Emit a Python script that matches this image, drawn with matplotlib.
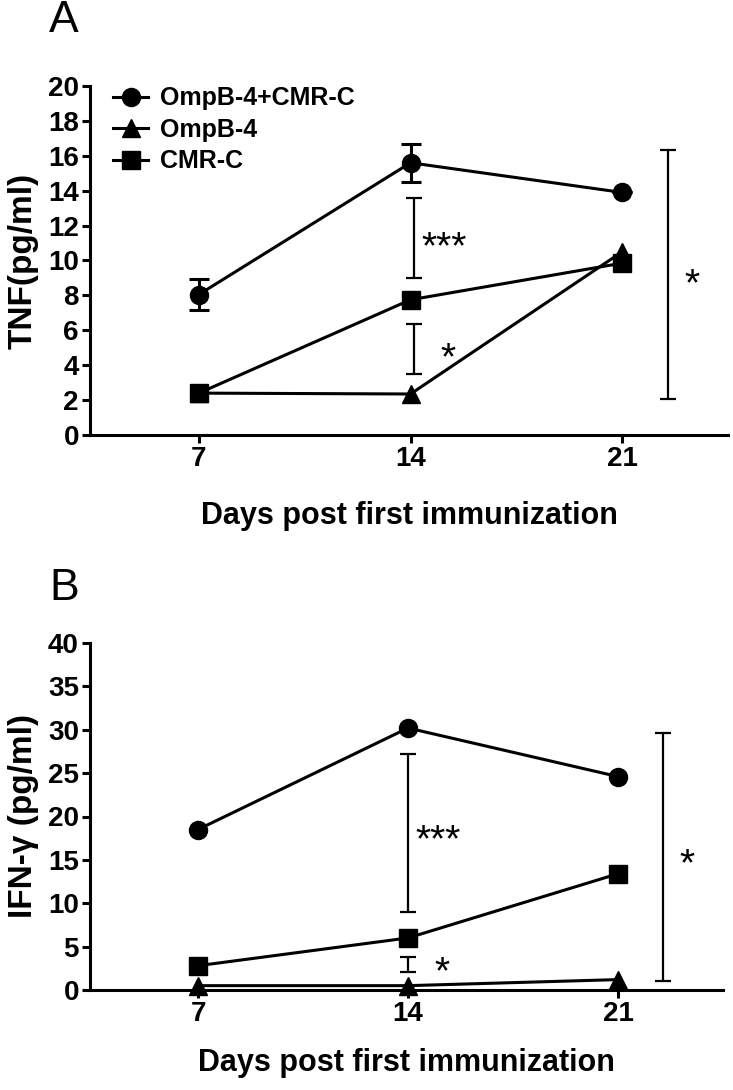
import matplotlib
matplotlib.use("Agg")
import matplotlib.pyplot as plt

plt.rcParams['font.family'] = ['Liberation Sans', 'DejaVu Sans']

days = [7, 14, 21]
series = ["OmpB-4+CMR-C", "OmpB-4", "CMR-C"]
markers = ["o", "^", "s"]

# panel A: TNF
tnf_combo = [8.05, 15.6, 13.9]
tnf_combo_err = [0.9, 1.1, 0.0]
tnf_ompb = [2.4, 2.35, 10.5]
tnf_cmrc = [2.4, 7.75, 9.85]

# panel B: IFN-gamma
ifn_combo = [18.5, 30.2, 24.6]
ifn_ompb = [0.5, 0.5, 1.2]
ifn_cmrc = [2.8, 6.0, 13.4]

# significance brackets: x, low, high, label
sig_a_x = [14.1, 14.1, 22.5]
sig_a_lo = [9.0, 3.5, 2.05]
sig_a_hi = [13.6, 6.35, 16.35]
sig_a_txt = ["***", "*", "*"]

sig_b_x = [14.0, 14.0, 22.5]
sig_b_lo = [9.0, 2.05, 1.05]
sig_b_hi = [27.2, 3.85, 29.6]
sig_b_txt = ["***", "*", "*"]

# horizontal gap between bracket and its star label (days)
star_gap = [0.25, 0.88, 0.55]

fig = plt.figure(figsize=(7.33, 10.9), dpi=100)
W, H = 733, 1090


def make_axes(left, top, right, bottom):
    return fig.add_axes([left / W, 1 - bottom / H, (right - left) / W, (bottom - top) / H])


def style(ax, ymax, ystep, ylabel, xpad):
    ax.set_xlim(3.4, 24.5)
    ax.set_ylim(0, ymax)
    ax.set_xticks(days)
    ax.set_yticks(range(0, ymax + 1, ystep))
    for s in ["top", "right"]:
        ax.spines[s].set_visible(False)
    for s in ["left", "bottom"]:
        ax.spines[s].set_linewidth(2.2)
    ax.tick_params(width=2.2, length=6, labelsize=20, pad=2)
    for lab in ax.get_xticklabels() + ax.get_yticklabels():
        lab.set_fontweight("bold")
    ax.set_ylabel(ylabel, fontsize=24, fontweight="bold")
    ax.yaxis.set_label_coords(-0.08, 0.5)
    ax.set_xlabel("Days post first immunization", fontsize=22, fontweight="bold", labelpad=xpad)


def draw(ax, vals, errs=None):
    for v, m, lab, e in zip(vals, markers, series, errs or [None] * 3):
        ax.plot(days, v, marker=m, color="black", lw=2.2, ms=13 if m == "o" else 12.5,
                label=lab, clip_on=False, zorder=3)
        if e is not None:
            ax.errorbar(days, v, yerr=e, fmt="none", ecolor="black",
                        capsize=7, capthick=2.2, elinewidth=2.2, zorder=3)


def brackets(ax, xs, lo, hi, txt, dy_frac):
    ymax = ax.get_ylim()[1]
    for x, a, b, t, dx in zip(xs, lo, hi, txt, star_gap):
        mid = (a + b) / 2
        ax.errorbar([x], [mid], yerr=[(b - a) / 2], fmt="none", ecolor="black",
                    elinewidth=1.6, capsize=6, capthick=1.6)
        ax.text(x + dx, mid - dy_frac * ymax, t, fontsize=28, ha="left", va="center")


axA = make_axes(90, 86, 728, 435)
draw(axA, [tnf_combo, tnf_ompb, tnf_cmrc], [tnf_combo_err, None, None])
style(axA, 20, 2, "TNF(pg/ml)", 21)
brackets(axA, sig_a_x, sig_a_lo, sig_a_hi, sig_a_txt, 0.03)
leg = axA.legend(loc="upper left", bbox_to_anchor=(0.017, 1.035), frameon=False, fontsize=18,
                 handlelength=1.4, handletextpad=0.45, labelspacing=0.3, borderpad=0)
for t in leg.get_texts():
    t.set_fontweight("bold")

axB = make_axes(90, 643, 723, 990)
draw(axB, [ifn_combo, ifn_ompb, ifn_cmrc])
style(axB, 40, 5, "IFN-\u03b3 (pg/ml)", 15)
brackets(axB, sig_b_x, sig_b_lo, sig_b_hi, sig_b_txt, 0.025)

fig.text(49 / W, 1 - 21 / H, "A", fontsize=32, ha="left", va="center")
fig.text(49 / W, 1 - 588 / H, "B", fontsize=32, ha="left", va="center")

fig.savefig("out.png", dpi=100)
